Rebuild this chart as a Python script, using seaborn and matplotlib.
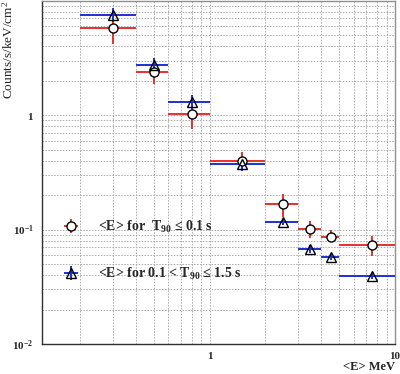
import numpy as np
import pandas as pd
import matplotlib
matplotlib.use("Agg")
import matplotlib.pyplot as plt
import matplotlib.ticker as mticker
import seaborn as sns

# ---- data ----
bin_lo = [0.2, 0.4, 0.6, 1.0, 2.0, 3.0, 4.0, 5.0]
bin_hi = [0.4, 0.6, 1.0, 2.0, 3.0, 4.0, 5.0, 10.0]
e_center = [0.3, 0.5, 0.8, 1.5, 2.5, 3.5, 4.5, 7.5]

red_val = [5.83, 2.39, 1.02, 0.399, 0.167, 0.101, 0.0867, 0.0728]
red_up = [8.15, 3.07, 1.36, 0.476, 0.206, 0.120, 0.0984, 0.0881]
red_lo = [4.17, 1.87, 0.758, 0.334, 0.1285, 0.0852, 0.0773, 0.059]

blue_val = [7.52, 2.76, 1.30, 0.375, 0.116, 0.0682, 0.0572, 0.0393]
blue_up = [8.60, 3.15, 1.50, 0.426, 0.123, 0.0739, 0.0607, 0.0417]
blue_lo = [6.57, 2.41, 1.13, 0.328, 0.109, 0.0629, 0.0539, 0.0371]

red_label = r"<E> for  T$_{\mathbf{90}}$ ≤ 0.1 s"
blue_label = r"<E> for 0.1 < T$_{\mathbf{90}}$ ≤ 1.5 s"
ylabel = r"Counts/s/keV/cm$^{2}$"
xlabel = "<E> MeV"

sns.set_style("white")
plt.rcParams["font.family"] = ["Liberation Serif", "DejaVu Serif"]
plt.rcParams["mathtext.fontset"] = "custom"
plt.rcParams["mathtext.rm"] = "Liberation Serif"
plt.rcParams["mathtext.bf"] = "Liberation Serif:bold"
plt.rcParams["mathtext.it"] = "Liberation Serif:italic"

fig = plt.figure(figsize=(4.0, 3.74), dpi=100)
ax = fig.add_axes([0.105, 0.080, 0.8825, 0.918])

def draw(val, up, lo, color, marker, face, label):
    df = pd.DataFrame({"x": e_center, "y": val, "xl": bin_lo, "xh": bin_hi,
                       "yl": lo, "yh": up})
    xerr = np.array([df.x - df.xl, df.xh - df.x])
    yerr = np.array([df.y - df.yl, df.yh - df.y])
    h = ax.errorbar(df.x, df.y, xerr=xerr, yerr=yerr, fmt=marker, color=color,
                    ecolor=color, elinewidth=1.4, capsize=0, ms=6.5,
                    mfc=face, mec="black", mew=1.0, label=label, zorder=3)
    return h

h1 = draw(red_val, red_up, red_lo, "#e8302c", "o", "white", red_label)
h2 = draw(blue_val, blue_up, blue_lo, "#1f2fd8", "^", "none", blue_label)

ax.set_xscale("log")
ax.set_yscale("log")
ax.set_xlim(0.125, 10)
ax.set_ylim(0.01, 10)

ax.xaxis.set_major_locator(mticker.FixedLocator([1, 10]))
ax.xaxis.set_major_formatter(mticker.FixedFormatter(["1", "10"]))
ax.xaxis.set_minor_locator(mticker.LogLocator(base=10, subs=np.arange(2, 10)))
ax.xaxis.set_minor_formatter(mticker.NullFormatter())
ax.yaxis.set_major_locator(mticker.FixedLocator([0.01, 0.1, 1]))
ax.yaxis.set_major_formatter(mticker.FixedFormatter(
    [r"$\mathbf{10^{-2}}$", r"$\mathbf{10^{-1}}$", r"$\mathbf{1}$"]))
ax.yaxis.set_minor_locator(mticker.LogLocator(base=10, subs=np.arange(2, 10)))
ax.yaxis.set_minor_formatter(mticker.NullFormatter())

ax.grid(True, which="both", color="#a8a8a8", linestyle=(0, (1.5, 1.5)), linewidth=0.7)
ax.tick_params(which="both", direction="in", length=0, labelsize=8, pad=6)
for lab in ax.get_xticklabels():
    lab.set_fontweight("bold")

for s in ["left", "bottom"]:
    ax.spines[s].set_color("#303030")
    ax.spines[s].set_linewidth(1.0)
for s in ["top", "right"]:
    ax.spines[s].set_color("#909090")
    ax.spines[s].set_linewidth(1.0)

ax.set_ylabel(ylabel, fontsize=9.5, ha="right", va="center")
ax.yaxis.set_label_coords(-0.095, 1.0)
ax.set_xlabel(xlabel, fontsize=9, fontweight="bold", ha="right", va="top")
ax.xaxis.set_label_coords(1.0, -0.05)

leg = ax.legend(handles=[h1, h2], loc="upper left", bbox_to_anchor=(0.04, 0.384),
                frameon=False, fontsize=10, handlelength=1.2, handletextpad=1.3,
                labelspacing=2.2, borderpad=0)
for t in leg.get_texts():
    t.set_fontweight("bold")

fig.savefig("out.png", dpi=100)
